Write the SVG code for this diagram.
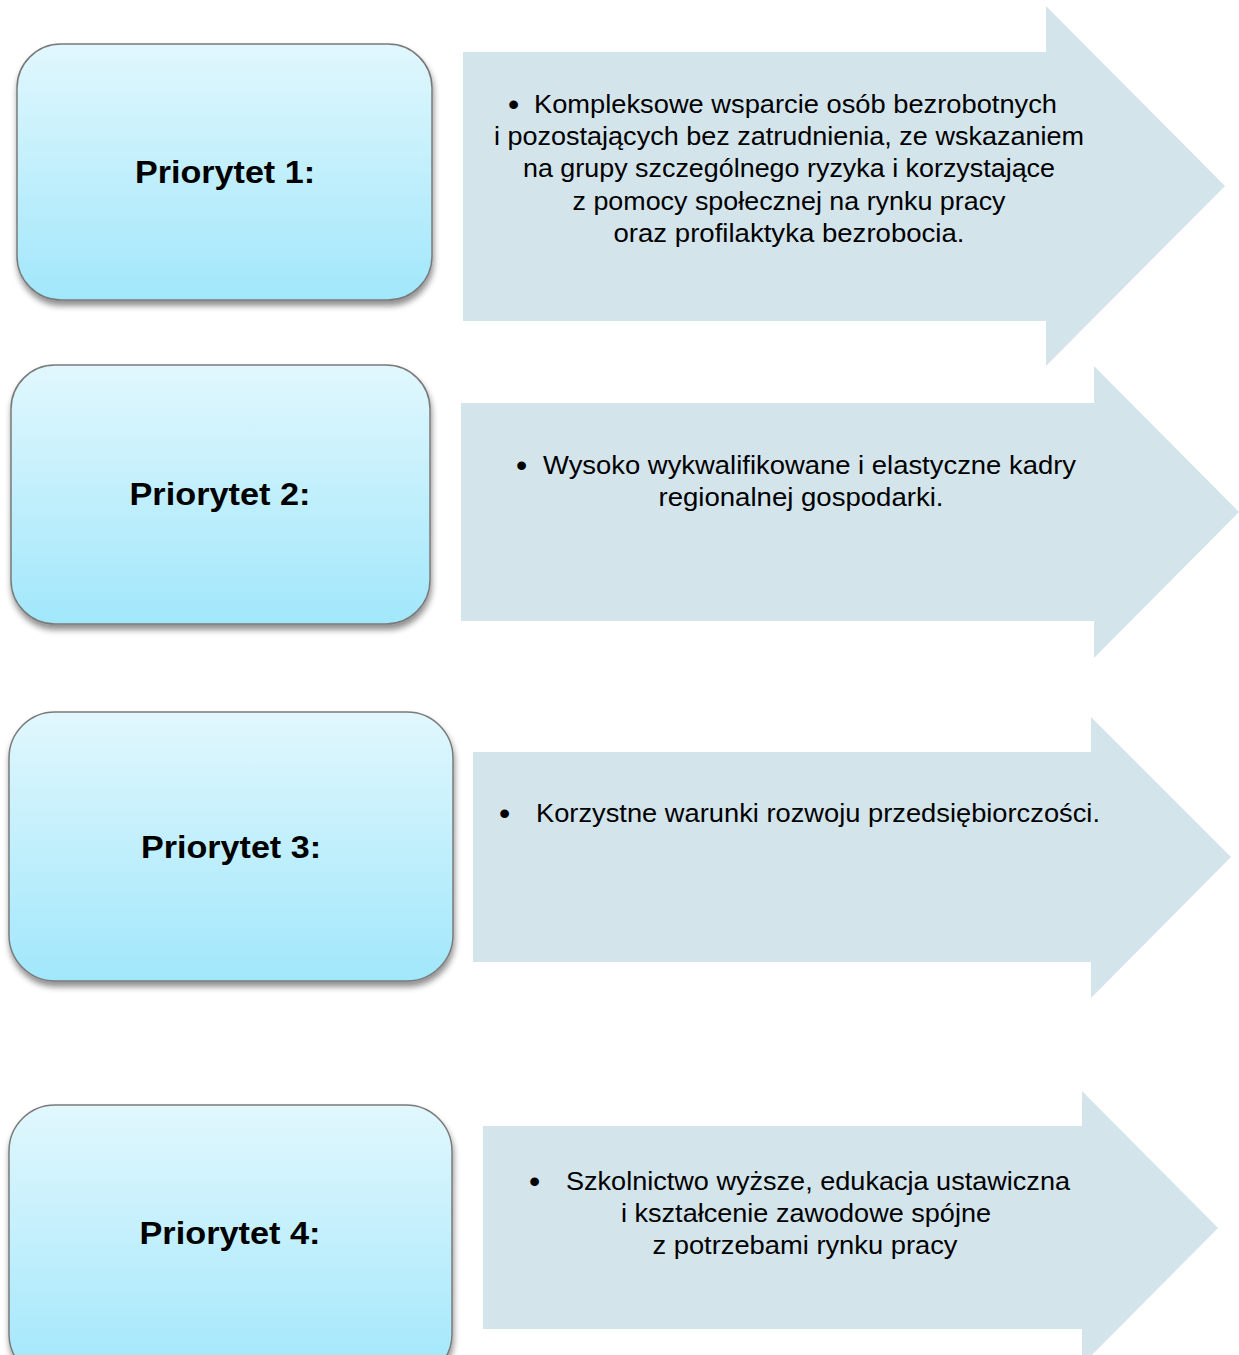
<svg xmlns="http://www.w3.org/2000/svg" width="1239" height="1355" viewBox="0 0 1239 1355">
<defs>
<linearGradient id="bx" x1="0" y1="0" x2="0" y2="1">
<stop offset="0" stop-color="#e1f7fd"/>
<stop offset="1" stop-color="#a1e7fb"/>
</linearGradient>
<filter id="sh" x="-10%" y="-10%" width="120%" height="125%">
<feGaussianBlur in="SourceAlpha" stdDeviation="3"/>
<feOffset dx="1" dy="5" result="b"/>
<feComponentTransfer><feFuncA type="linear" slope="0.45"/></feComponentTransfer>
<feMerge><feMergeNode/><feMergeNode in="SourceGraphic"/></feMerge>
</filter>
</defs>
<style>
.box{fill:url(#bx);stroke:#7a7a7a;stroke-width:1.5;filter:url(#sh)}
.arrow{fill:#d3e4eb}
.lbl{font-family:"Liberation Sans",Arial,sans-serif;font-weight:bold;font-size:32px;fill:#000;text-anchor:middle}
.t{font-family:"Liberation Sans",Arial,sans-serif;font-size:25px;fill:#000;text-anchor:middle}
.tl{font-family:"Liberation Sans",Arial,sans-serif;font-size:25px;fill:#000}
.bul{font-family:"Liberation Sans",Arial,sans-serif;font-size:32px;fill:#000}
</style>
<rect width="1239" height="1355" fill="#fff"/>

<g id="connectors">
<path class="arrow" d="M463 52H1046V6L1225 186L1046 366V321H463Z"/>
<path class="arrow" d="M461 403H1094V366L1239 512L1094 658V621H461Z"/>
<path class="arrow" d="M473 752H1091V717L1231 857L1091 998V962H473Z"/>
<path class="arrow" d="M483 1126H1082V1091L1218 1228L1082 1365V1329H483Z"/>
</g>

<g id="node1">
<rect class="box" x="17" y="44" width="415" height="256" rx="44"/>
<text class="lbl" x="225" y="183" textLength="180" lengthAdjust="spacingAndGlyphs">Priorytet 1:</text>
</g>
<g id="text1">
<text class="bul" x="508" y="115">•</text>
<text class="tl" x="534" y="113" textLength="523" lengthAdjust="spacingAndGlyphs">Kompleksowe wsparcie osób bezrobotnych</text>
<text class="t" x="789" y="145" textLength="590" lengthAdjust="spacingAndGlyphs">i pozostających bez zatrudnienia, ze wskazaniem</text>
<text class="t" x="789" y="177" textLength="532" lengthAdjust="spacingAndGlyphs">na grupy szczególnego ryzyka i korzystające</text>
<text class="t" x="789" y="210" textLength="433" lengthAdjust="spacingAndGlyphs">z pomocy społecznej na rynku pracy</text>
<text class="t" x="789" y="242" textLength="351" lengthAdjust="spacingAndGlyphs">oraz profilaktyka bezrobocia.</text>
</g>

<g id="node2">
<rect class="box" x="11" y="365" width="419" height="259" rx="44"/>
<text class="lbl" x="220" y="505" textLength="181" lengthAdjust="spacingAndGlyphs">Priorytet 2:</text>
</g>
<g id="text2">
<text class="bul" x="516" y="476">•</text>
<text class="tl" x="543" y="474" textLength="533" lengthAdjust="spacingAndGlyphs">Wysoko wykwalifikowane i elastyczne kadry</text>
<text class="t" x="801" y="506" textLength="285" lengthAdjust="spacingAndGlyphs">regionalnej gospodarki.</text>
</g>

<g id="node3">
<rect class="box" x="9" y="712" width="444" height="269" rx="46"/>
<text class="lbl" x="231" y="858" textLength="180" lengthAdjust="spacingAndGlyphs">Priorytet 3:</text>
</g>
<g id="text3">
<text class="bul" x="499" y="824">•</text>
<text class="tl" x="536" y="822" textLength="564" lengthAdjust="spacingAndGlyphs">Korzystne warunki rozwoju przedsiębiorczości.</text>
</g>

<g id="node4">
<rect class="box" x="9" y="1105" width="443" height="275" rx="46"/>
<text class="lbl" x="230" y="1244" textLength="181" lengthAdjust="spacingAndGlyphs">Priorytet 4:</text>
</g>
<g id="text4">
<text class="bul" x="529" y="1192">•</text>
<text class="tl" x="566" y="1190" textLength="504" lengthAdjust="spacingAndGlyphs">Szkolnictwo wyższe, edukacja ustawiczna</text>
<text class="t" x="806" y="1222" textLength="370" lengthAdjust="spacingAndGlyphs">i kształcenie zawodowe spójne</text>
<text class="t" x="805" y="1254" textLength="305" lengthAdjust="spacingAndGlyphs">z potrzebami rynku pracy</text>
</g>
</svg>
